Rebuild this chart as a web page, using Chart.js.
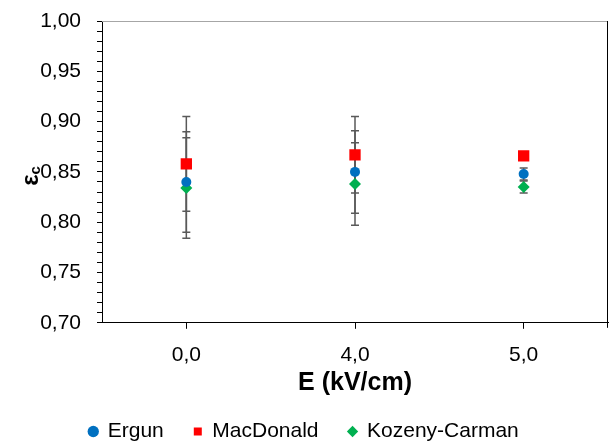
<!DOCTYPE html>
<html><head><meta charset="utf-8">
<script src="https://cdn.jsdelivr.net/npm/chart.js@4"></script>
<style>html,body{margin:0;padding:0;background:#fff}</style>
</head><body>
<canvas id="c" width="609" height="443"></canvas>
<script>
const categories = ['0,0', '4,0', '5,0'];
const ergun = [0.840, 0.850, 0.848];
const ergunErr = [0.050, 0.041, 0.006];
const macdonald = [0.858, 0.867, 0.866];
const macdonaldErr = [0.047, 0.038, 0.003];
const kozeny = [0.834, 0.838, 0.835];
const kozenyErr = [0.050, 0.041, 0.006];
const yTickValues = [0.70, 0.75, 0.80, 0.85, 0.90, 0.95, 1.00];
const yTickLabels = ['0,70', '0,75', '0,80', '0,85', '0,90', '0,95', '1,00'];
const errors = [ergunErr, macdonaldErr, kozenyErr];

const FONT = "'Liberation Sans', Arial, sans-serif";

const errorBarPlugin = {
  id: 'errorBars',
  beforeDatasetsDraw(chart) {
    const ctx = chart.ctx;
    const y = chart.scales.y;
    ctx.save();
    ctx.strokeStyle = '#595959';
    ctx.lineWidth = 1.5;
    chart.data.datasets.forEach((ds, di) => {
      const meta = chart.getDatasetMeta(di);
      meta.data.forEach((pt, i) => {
        const v = ds.data[i], e = errors[di][i];
        const x = pt.x;
        const yt = y.getPixelForValue(v + e);
        const yb = y.getPixelForValue(v - e);
        ctx.beginPath();
        ctx.moveTo(x, yt); ctx.lineTo(x, yb);
        ctx.moveTo(x - 4, yt); ctx.lineTo(x + 4, yt);
        ctx.moveTo(x - 4, yb); ctx.lineTo(x + 4, yb);
        ctx.stroke();
      });
    });
    ctx.restore();
  }
};

const framePlugin = {
  id: 'frame',
  afterDraw(chart) {
    const ctx = chart.ctx;
    const a = chart.chartArea;
    ctx.save();
    ctx.strokeStyle = '#a6a6a6';
    ctx.lineWidth = 1;
    ctx.beginPath();
    ctx.moveTo(a.left, Math.round(a.top) + 0.5);
    ctx.lineTo(a.right, Math.round(a.top) + 0.5);
    ctx.stroke();
    ctx.strokeStyle = '#000';
    ctx.beginPath();
    ctx.moveTo(Math.round(a.right) - 0.5, a.top);
    ctx.lineTo(Math.round(a.right) - 0.5, a.bottom + 5);
    ctx.stroke();
    // y title: epsilon with subscript c
    ctx.fillStyle = '#000';
    ctx.translate(38, 176);
    ctx.rotate(-Math.PI / 2);
    ctx.textBaseline = 'alphabetic';
    ctx.textAlign = 'left';
    ctx.font = 'bold 24px ' + FONT;
    const w1 = ctx.measureText('ε').width;
    ctx.font = 'bold 15px ' + FONT;
    const w2 = ctx.measureText('c').width;
    const x0 = -(w1 + w2) / 2;
    ctx.font = 'bold 24px ' + FONT;
    ctx.fillText('ε', x0, 0);
    ctx.font = 'bold 15px ' + FONT;
    ctx.fillText('c', x0 + w1, 2);
    ctx.restore();
  }
};

new Chart(document.getElementById('c'), {
  type: 'line',
  data: {
    labels: categories,
    datasets: [
      { label: 'Ergun', data: ergun, showLine: false, pointStyle: 'circle', pointRadius: 5,
        backgroundColor: '#0070C0', borderColor: '#0070C0', pointBorderWidth: 0 },
      { label: 'MacDonald', data: macdonald, showLine: false, pointStyle: 'rect', pointRadius: 8,
        backgroundColor: '#FF0000', borderColor: '#FF0000', pointBorderWidth: 0 },
      { label: 'Kozeny-Carman', data: kozeny, showLine: false, pointStyle: 'rectRot', pointRadius: 6,
        backgroundColor: '#00B050', borderColor: '#00B050', pointBorderWidth: 0 }
    ]
  },
  options: {
    responsive: false,
    animation: false,
    events: [],
    layout: { autoPadding: false, padding: { top: 21, right: 1, left: 0, bottom: -9 } },
    plugins: {
      tooltip: { enabled: false },
      legend: {
        position: 'bottom',
        labels: {
          usePointStyle: true,
          boxHeight: 8,
          boxWidth: 8,
          padding: 30,
          color: '#000',
          font: { family: FONT, size: 21 }
        }
      }
    },
    scales: {
      x: {
        type: 'category',
        offset: true,
        grid: { display: true, drawOnChartArea: false, offset: false, tickLength: 6, color: '#000' },
        border: { display: true, color: '#000', width: 1 },
        ticks: { color: '#000', padding: 14, font: { family: FONT, size: 21 } },
        title: { display: true, text: 'E (kV/cm)', color: '#000', padding: { top: -14, bottom: -7 },
                 font: { family: FONT, size: 25, weight: 'bold' } }
      },
      y: {
        min: 0.70, max: 1.00,
        afterFit(scale) { scale.width = 102; scale.paddingTop = 0; scale.paddingBottom = 0; },
        afterBuildTicks(scale) {
          const t = [];
          for (let i = 70; i <= 100; i++) t.push({ value: i / 100 });
          scale.ticks = t;
        },
        grid: { display: true, drawOnChartArea: false, tickLength: 5, color: '#000' },
        border: { display: true, color: '#000', width: 1 },
        ticks: {
          autoSkip: false,
          color: '#000',
          padding: 16,
          font: { family: FONT, size: 21 },
          callback(v) {
            const idx = yTickValues.findIndex(t => Math.abs(t - v) < 1e-6);
            return idx >= 0 ? yTickLabels[idx] : '';
          }
        }
      }
    }
  },
  plugins: [errorBarPlugin, framePlugin]
});
</script>
</body></html>
